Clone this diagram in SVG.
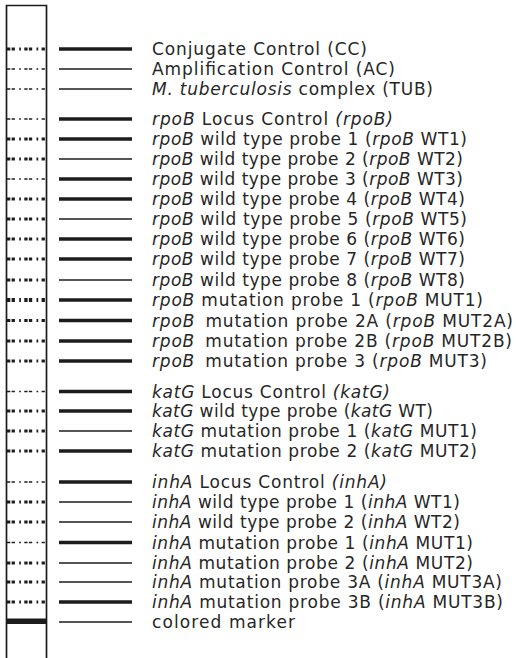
<svg xmlns="http://www.w3.org/2000/svg" width="516" height="658" viewBox="0 0 516 658">
  <style>
    .t { font-family: "DejaVu Sans", "Liberation Sans", sans-serif; font-size: 17px; fill: #262626; }
    .i { font-style: italic; }
    .band { stroke: #1c1c1c; fill: none; }
    .lk { stroke-width: 3.6; }
    .ln { stroke-width: 1.3; }
    .dot { stroke: #1c1c1c; stroke-dasharray: 3.3 1.3 3.3 4.3 1.7 3.4; fill: none; }
    .dk { stroke-width: 3; }
    .dn { stroke-width: 1.6; }
    .dx { stroke-width: 3.8; }
  </style>

  <!-- test strip outline (open at the bottom) -->
  <g id="strip">
    <path d="M6.5 660 V5.5 H46.5 V660" fill="none" stroke="#1c1c1c" stroke-width="1.7"/>
    <rect x="7" y="618.5" width="39" height="5.5" fill="#1c1c1c"/>
  </g>

  <g id="row-cc">
    <line class="dot dk" x1="7" y1="49" x2="45" y2="49"/>
    <line class="band lk" x1="59" y1="49" x2="132" y2="49"/>
    <text class="t" x="152" y="55" textLength="215">Conjugate Control (CC)</text>
  </g>
  <g id="row-ac">
    <line class="dot dn" x1="7" y1="69" x2="45" y2="69"/>
    <line class="band ln" x1="59" y1="69" x2="132" y2="69"/>
    <text class="t" x="152" y="75" textLength="243">Amplification Control (AC)</text>
  </g>
  <g id="row-tub">
    <line class="dot dn" x1="7" y1="89" x2="45" y2="89"/>
    <line class="band ln" x1="59" y1="89" x2="132" y2="89"/>
    <text class="t" x="152" y="95" textLength="281"><tspan class="i">M. tuberculosis</tspan> complex (TUB)</text>
  </g>

  <g id="row-rpob-lc">
    <line class="dot dn" x1="7" y1="119" x2="45" y2="119"/>
    <line class="band lk" x1="59" y1="119" x2="132" y2="119"/>
    <text class="t" x="152" y="125" textLength="241"><tspan class="i">rpoB</tspan> Locus Control <tspan class="i">(rpoB)</tspan></text>
  </g>
  <g id="row-rpob-wt1">
    <line class="dot dk" x1="7" y1="139" x2="45" y2="139"/>
    <line class="band lk" x1="59" y1="139" x2="132" y2="139"/>
    <text class="t" x="152" y="145" textLength="315"><tspan class="i">rpoB</tspan> wild type probe 1 (<tspan class="i">rpoB</tspan> WT1)</text>
  </g>
  <g id="row-rpob-wt2">
    <line class="dot dk" x1="7" y1="159" x2="45" y2="159"/>
    <line class="band ln" x1="59" y1="159" x2="132" y2="159"/>
    <text class="t" x="152" y="165" textLength="311"><tspan class="i">rpoB</tspan> wild type probe 2 (<tspan class="i">rpoB</tspan> WT2)</text>
  </g>
  <g id="row-rpob-wt3">
    <line class="dot dn" x1="7" y1="179" x2="45" y2="179"/>
    <line class="band lk" x1="59" y1="179" x2="132" y2="179"/>
    <text class="t" x="152" y="185" textLength="311"><tspan class="i">rpoB</tspan> wild type probe 3 (<tspan class="i">rpoB</tspan> WT3)</text>
  </g>
  <g id="row-rpob-wt4">
    <line class="dot dk" x1="7" y1="199" x2="45" y2="199"/>
    <line class="band lk" x1="59" y1="199" x2="132" y2="199"/>
    <text class="t" x="152" y="205" textLength="313"><tspan class="i">rpoB</tspan> wild type probe 4 (<tspan class="i">rpoB</tspan> WT4)</text>
  </g>
  <g id="row-rpob-wt5">
    <line class="dot dk" x1="7" y1="219" x2="45" y2="219"/>
    <line class="band ln" x1="59" y1="219" x2="132" y2="219"/>
    <text class="t" x="152" y="225" textLength="315"><tspan class="i">rpoB</tspan> wild type probe 5 (<tspan class="i">rpoB</tspan> WT5)</text>
  </g>
  <g id="row-rpob-wt6">
    <line class="dot dk" x1="7" y1="239" x2="45" y2="239"/>
    <line class="band lk" x1="59" y1="239" x2="132" y2="239"/>
    <text class="t" x="152" y="245" textLength="313"><tspan class="i">rpoB</tspan> wild type probe 6 (<tspan class="i">rpoB</tspan> WT6)</text>
  </g>
  <g id="row-rpob-wt7">
    <line class="dot dk" x1="7" y1="259" x2="45" y2="259"/>
    <line class="band lk" x1="59" y1="259" x2="132" y2="259"/>
    <text class="t" x="152" y="265" textLength="313"><tspan class="i">rpoB</tspan> wild type probe 7 (<tspan class="i">rpoB</tspan> WT7)</text>
  </g>
  <g id="row-rpob-wt8">
    <line class="dot dk" x1="7" y1="280" x2="45" y2="280"/>
    <line class="band ln" x1="59" y1="280" x2="132" y2="280"/>
    <text class="t" x="152" y="286" textLength="313"><tspan class="i">rpoB</tspan> wild type probe 8 (<tspan class="i">rpoB</tspan> WT8)</text>
  </g>
  <g id="row-rpob-mut1">
    <line class="dot dx" x1="7" y1="300" x2="45" y2="300"/>
    <line class="band lk" x1="59" y1="300" x2="132" y2="300"/>
    <text class="t" x="152" y="306" textLength="331"><tspan class="i">rpoB</tspan> mutation probe 1 (<tspan class="i">rpoB</tspan> MUT1)</text>
  </g>
  <g id="row-rpob-mut2a">
    <line class="dot dk" x1="7" y1="320.5" x2="45" y2="320.5"/>
    <line class="band lk" x1="59" y1="320.5" x2="132" y2="320.5"/>
    <text class="t" x="152" y="326.5" textLength="361"><tspan class="i">rpoB</tspan><tspan dx="4"> mutation probe 2A (</tspan><tspan class="i">rpoB</tspan> MUT2A)</text>
  </g>
  <g id="row-rpob-mut2b">
    <line class="dot dk" x1="7" y1="341" x2="45" y2="341"/>
    <line class="band lk" x1="59" y1="341" x2="132" y2="341"/>
    <text class="t" x="152" y="347" textLength="360"><tspan class="i">rpoB</tspan><tspan dx="4"> mutation probe 2B (</tspan><tspan class="i">rpoB</tspan> MUT2B)</text>
  </g>
  <g id="row-rpob-mut3">
    <line class="dot dk" x1="7" y1="361" x2="45" y2="361"/>
    <line class="band lk" x1="59" y1="361" x2="132" y2="361"/>
    <text class="t" x="152" y="367" textLength="335"><tspan class="i">rpoB</tspan><tspan dx="4"> mutation probe 3 (</tspan><tspan class="i">rpoB</tspan> MUT3)</text>
  </g>

  <g id="row-katg-lc">
    <line class="dot dn" x1="7" y1="391.5" x2="45" y2="391.5"/>
    <line class="band lk" x1="59" y1="391.5" x2="132" y2="391.5"/>
    <text class="t" x="152" y="397.5" textLength="238"><tspan class="i">katG</tspan> Locus Control <tspan class="i">(katG)</tspan></text>
  </g>
  <g id="row-katg-wt">
    <line class="dot dk" x1="7" y1="411" x2="45" y2="411"/>
    <line class="band lk" x1="59" y1="411" x2="132" y2="411"/>
    <text class="t" x="152" y="417" textLength="281"><tspan class="i">katG</tspan> wild type probe (<tspan class="i">katG</tspan> WT)</text>
  </g>
  <g id="row-katg-mut1">
    <line class="dot dk" x1="7" y1="431" x2="45" y2="431"/>
    <line class="band ln" x1="59" y1="431" x2="132" y2="431"/>
    <text class="t" x="152" y="437" textLength="325"><tspan class="i">katG</tspan> mutation probe 1 (<tspan class="i">katG</tspan> MUT1)</text>
  </g>
  <g id="row-katg-mut2">
    <line class="dot dk" x1="7" y1="451" x2="45" y2="451"/>
    <line class="band lk" x1="59" y1="451" x2="132" y2="451"/>
    <text class="t" x="152" y="457" textLength="325"><tspan class="i">katG</tspan> mutation probe 2 (<tspan class="i">katG</tspan> MUT2)</text>
  </g>

  <g id="row-inha-lc">
    <line class="dot dn" x1="7" y1="482" x2="45" y2="482"/>
    <line class="band lk" x1="59" y1="482" x2="132" y2="482"/>
    <text class="t" x="152" y="488" textLength="235"><tspan class="i">inhA</tspan> Locus Control <tspan class="i">(inhA)</tspan></text>
  </g>
  <g id="row-inha-wt1">
    <line class="dot dk" x1="7" y1="502" x2="45" y2="502"/>
    <line class="band ln" x1="59" y1="502" x2="132" y2="502"/>
    <text class="t" x="152" y="508" textLength="308"><tspan class="i">inhA</tspan> wild type probe 1 (<tspan class="i">inhA</tspan> WT1)</text>
  </g>
  <g id="row-inha-wt2">
    <line class="dot dk" x1="7" y1="522" x2="45" y2="522"/>
    <line class="band ln" x1="59" y1="522" x2="132" y2="522"/>
    <text class="t" x="152" y="528" textLength="308"><tspan class="i">inhA</tspan> wild type probe 2 (<tspan class="i">inhA</tspan> WT2)</text>
  </g>
  <g id="row-inha-mut1">
    <line class="dot dn" x1="7" y1="542.5" x2="45" y2="542.5"/>
    <line class="band lk" x1="59" y1="542.5" x2="132" y2="542.5"/>
    <text class="t" x="152" y="548.5" textLength="321"><tspan class="i">inhA</tspan> mutation probe 1 (<tspan class="i">inhA</tspan> MUT1)</text>
  </g>
  <g id="row-inha-mut2">
    <line class="dot dk" x1="7" y1="563" x2="45" y2="563"/>
    <line class="band ln" x1="59" y1="563" x2="132" y2="563"/>
    <text class="t" x="152" y="569" textLength="321"><tspan class="i">inhA</tspan> mutation probe 2 (<tspan class="i">inhA</tspan> MUT2)</text>
  </g>
  <g id="row-inha-mut3a">
    <line class="dot dk" x1="7" y1="582" x2="45" y2="582"/>
    <line class="band ln" x1="59" y1="582" x2="132" y2="582"/>
    <text class="t" x="152" y="588" textLength="350"><tspan class="i">inhA</tspan> mutation probe 3A (<tspan class="i">inhA</tspan> MUT3A)</text>
  </g>
  <g id="row-inha-mut3b">
    <line class="dot dk" x1="7" y1="602" x2="45" y2="602"/>
    <line class="band lk" x1="59" y1="602" x2="132" y2="602"/>
    <text class="t" x="152" y="608" textLength="351"><tspan class="i">inhA</tspan> mutation probe 3B (<tspan class="i">inhA</tspan> MUT3B)</text>
  </g>

  <g id="row-marker">
    <line class="band ln" x1="59" y1="622" x2="132" y2="622"/>
    <text class="t" x="152" y="628" textLength="143">colored marker</text>
  </g>
</svg>
